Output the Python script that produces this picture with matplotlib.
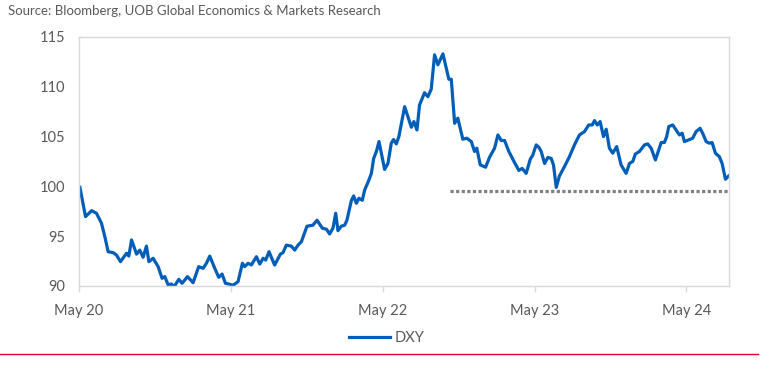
import matplotlib
matplotlib.use("Agg")
import matplotlib.pyplot as plt
from matplotlib.lines import Line2D

plt.rcParams['font.family'] = ['Lato', 'DejaVu Sans']

# DXY index, x in decimal years
dates = [
    2020.340, 2020.377, 2020.417, 2020.449, 2020.482, 2020.504, 2020.526, 2020.559,
    2020.581, 2020.607, 2020.647, 2020.662, 2020.680, 2020.713, 2020.734, 2020.756,
    2020.778, 2020.794, 2020.822, 2020.855, 2020.881, 2020.899, 2020.921, 2020.943,
    2020.960, 2020.991, 2021.013, 2021.048, 2021.085, 2021.122, 2021.151, 2021.173,
    2021.195, 2021.228, 2021.254, 2021.276, 2021.298, 2021.320, 2021.348,
    2021.381, 2021.410, 2021.425, 2021.447, 2021.469, 2021.502, 2021.524, 2021.546,
    2021.563, 2021.585, 2021.622, 2021.660, 2021.677, 2021.699, 2021.732, 2021.754,
    2021.776, 2021.798, 2021.835, 2021.874, 2021.901, 2021.936, 2021.963, 2021.984,
    2022.006, 2022.024, 2022.039, 2022.061, 2022.083, 2022.098, 2022.127, 2022.142,
    2022.160, 2022.177, 2022.199, 2022.215, 2022.243, 2022.259, 2022.274, 2022.292,
    2022.309, 2022.346, 2022.368,
    2022.390, 2022.405, 2022.423, 2022.440, 2022.478, 2022.522, 2022.539, 2022.559,
    2022.576, 2022.609, 2022.631, 2022.653, 2022.675, 2022.697, 2022.730, 2022.769,
    2022.785, 2022.807, 2022.828, 2022.861, 2022.888, 2022.917, 2022.938, 2022.953,
    2022.976, 2023.011, 2023.037, 2023.070, 2023.092, 2023.114, 2023.136, 2023.164,
    2023.201, 2023.230, 2023.252, 2023.278, 2023.305, 2023.322, 2023.344, 2023.361,
    2023.377, 2023.399, 2023.421, 2023.443, 2023.458, 2023.476, 2023.497, 2023.530,
    2023.563, 2023.596, 2023.629, 2023.662, 2023.690, 2023.713, 2023.728, 2023.746,
    2023.765, 2023.787, 2023.805, 2023.826, 2023.848, 2023.874, 2023.903, 2023.936,
    2023.958, 2023.980, 2023.997, 2024.024, 2024.057, 2024.078, 2024.101, 2024.129,
    2024.167, 2024.188, 2024.203, 2024.217, 2024.243, 2024.265, 2024.287, 2024.305,
    2024.320, 2024.348, 2024.374, 2024.397, 2024.423, 2024.440, 2024.463, 2024.484,
    2024.502, 2024.524, 2024.550, 2024.568, 2024.590, 2024.611,
]
dxy = [
    99.9, 96.96, 97.56, 97.3, 96.3, 94.95, 93.44, 93.34,
    93.1, 92.44, 93.28, 93.0, 94.62, 93.2, 93.6, 92.88,
    94.0, 92.44, 92.78, 91.94, 90.77, 90.94, 90.1, 90.2,
    89.93, 90.67, 90.27, 90.94, 90.33, 91.94, 91.77, 92.28,
    93.0, 91.77, 90.87, 91.2, 90.27, 90.2, 90.07,
    90.43, 92.28, 91.94, 92.28, 92.11, 92.94, 92.2, 92.78,
    92.6, 93.44, 92.1, 93.2, 93.34, 94.1, 94.0, 93.6,
    94.1, 94.44, 96.0, 96.1, 96.6, 95.8, 95.7, 95.22,
    95.8, 97.3, 95.55, 96.0, 96.1, 96.6, 98.56, 99.04,
    98.3, 98.8, 98.6, 99.64, 100.64, 101.3, 102.8, 103.5,
    104.5, 101.7, 102.3,
    104.33, 104.7, 104.26, 105.0, 108.0, 105.93, 106.5, 105.66,
    108.17, 109.4, 109.0, 109.75, 113.2, 112.2, 113.3, 110.75,
    110.75, 106.33, 106.84, 104.73, 104.83, 104.49, 103.5, 103.83,
    102.15, 101.92, 102.92, 103.83, 105.16, 104.6, 104.6, 103.5,
    102.4, 101.6, 101.8, 101.3, 102.72, 103.15, 104.16, 103.93,
    103.5, 102.3, 102.9, 102.8, 102.15, 99.9, 101.04, 101.98,
    102.98, 104.16, 105.16, 105.5, 106.16, 106.16, 106.6, 106.16,
    106.5, 104.99, 105.73, 103.83, 103.33, 103.99, 102.15, 101.3,
    102.3, 102.5, 103.25, 103.5, 104.16, 104.26, 103.83, 102.65,
    104.4, 104.4, 104.99, 106.0, 106.16, 105.66, 105.16, 105.33,
    104.49, 104.66, 104.83, 105.5, 105.83, 105.33, 104.49, 104.33,
    104.4, 103.33, 102.98, 102.3, 100.71, 101.04,
]

ref_start = 2022.774
ref_level = 99.5

tick_pos = [2020.333, 2021.333, 2022.333, 2023.333, 2024.333]
tick_labels = ['May 20', 'May 21', 'May 22', 'May 23', 'May 24']
yticks = [90, 95, 100, 105, 110, 115]

blue = '#005EB8'
grey_txt = '#595959'
spine_col = '#D9D9D9'

fig = plt.figure(figsize=(7.73, 3.69), dpi=100)
ax = fig.add_axes([0.102, 0.225, 0.841, 0.675])

ax.plot(dates, dxy, color=blue, lw=2.3, solid_joinstyle='round')
ax.plot([ref_start, 2024.613], [ref_level, ref_level], color='#808080', lw=2.3,
        linestyle=(0, (1, 0.75)), dash_capstyle='butt')

ax.set_xlim(2020.333, 2024.613)
ax.set_ylim(90, 115)
ax.set_xticks(tick_pos)
ax.set_xticklabels(tick_labels)
ax.set_yticks(yticks)

for s in ax.spines.values():
    s.set_color(spine_col)
    s.set_linewidth(1.0)

ax.tick_params(axis='x', length=4, width=1, color=spine_col, pad=9,
               labelsize=10.5, labelcolor=grey_txt)
ax.tick_params(axis='y', length=0, pad=10, labelsize=10.5, labelcolor=grey_txt)

fig.text(0.010, 0.970, 'Source: Bloomberg, UOB Global Economics & Markets Research',
         fontsize=9.5, color=grey_txt, va='center', ha='left')

handle = Line2D([], [], color=blue, lw=2.3)
fig.legend([handle], ['DXY'], loc='center', bbox_to_anchor=(0.5, 0.084),
           frameon=False, fontsize=10.5, handlelength=2.8, handletextpad=0.3,
           labelcolor=grey_txt)

fig.add_artist(Line2D([0.0, 0.98], [0.040, 0.040], color='#E4002B', lw=1.0,
                      transform=fig.transFigure))

fig.savefig('out.png', dpi=100)
